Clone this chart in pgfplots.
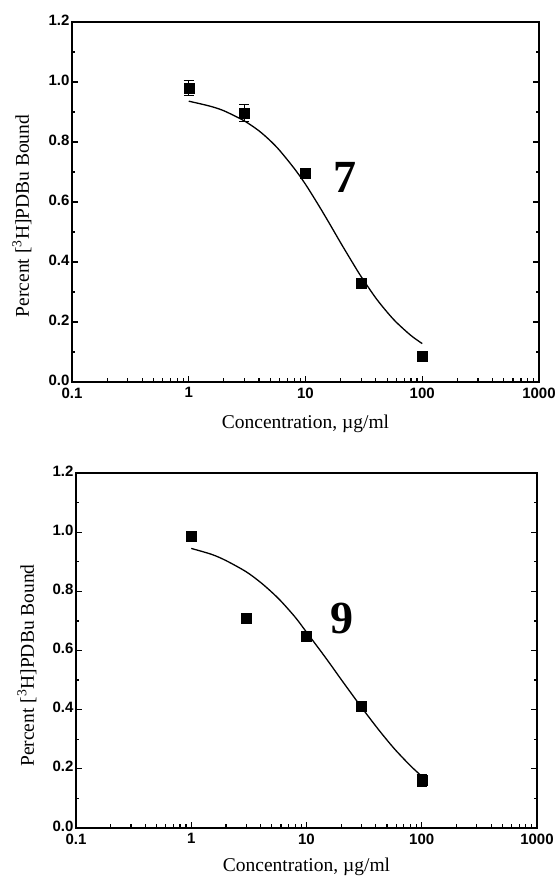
\documentclass[border=0pt]{standalone}
\usepackage{fontspec}
\setmainfont{Liberation Serif}
\newfontfamily\ticksf{Liberation Sans}
\usepackage{pgfplots}
\pgfplotsset{compat=1.18}
\usepackage{pgfplotstable}

\pgfplotstableread{
x y e
1 0.98 0.025
3 0.897 0.028
10 0.697 0.010
30 0.330 0.015
100 0.085 0.010
}\dataA
\pgfplotstableread{
x y e
1 0.987 0.015
3 0.710 0.012
10 0.650 0.015
30 0.413 0.015
100 0.160 0.020
}\dataB

\begin{document}
\begin{tikzpicture}
\useasboundingbox (0,0) rectangle (558pt,878pt);
% top panel
\begin{semilogxaxis}[
  anchor=south west, scale only axis,
  at={(72pt,496pt)}, width=467pt, height=360pt,
  xmin=0.1, xmax=1000, ymin=0, ymax=1.2,
  xtick={0.1,1,10,100,1000},
  xticklabels={0.1,1,10,100,1000},
  minor xtick={0.2,0.3,0.4,0.5,0.6,0.7,0.8,0.9,2,3,4,5,6,7,8,9,20,30,40,50,60,70,80,90,200,300,400,500,600,700,800,900},
  ytick={0,0.2,0.4,0.6,0.8,1.0,1.2},
  minor ytick={0.1,0.3,0.5,0.7,0.9,1.1},
  yticklabel style={/pgf/number format/fixed, /pgf/number format/fixed zerofill, /pgf/number format/precision=1, /pgf/number format/assume math mode=true, xshift=1pt, yshift=2pt},
  xticklabel style={yshift=-2pt},
  xtick pos=bottom, ytick pos=both,
  tick align=inside,
  major tick length=6pt, minor tick length=3.5pt,
  every tick/.style={black, line width=1.2pt},
  axis line style={line width=1.8pt},
  tick label style={font=\ticksf\bfseries\fontsize{15}{16}\selectfont},
  label style={font=\fontsize{19.5}{21}\selectfont},
  xlabel={Concentration, µg/ml},
  ylabel={Percent [\textsuperscript{3}H]PDBu Bound},
  xlabel style={at={([yshift=-42pt]axis description cs:0.5,0)}, anchor=center},
  ylabel style={at={([xshift=-50pt,yshift=-14pt]axis description cs:0,0.5)}, anchor=center},
]
\addplot[black, line width=1.3pt, smooth] coordinates {
(1,0.936)(1.5,0.920)(2,0.904)(3,0.870)(4,0.837)(5,0.804)(6,0.772)(8,0.712)(10,0.659)(13,0.588)(16,0.529)(20,0.464)(25,0.401)(30,0.351)(40,0.280)(50,0.233)(60,0.199)(80,0.155)(100,0.128)
};
\addplot[black, only marks, mark=square*, mark size=5pt,
  error bars/.cd, y dir=both, y explicit,
  error bar style={line width=1.5pt},
  error mark options={rotate=90, mark size=5pt, line width=1.5pt}]
  table[x=x, y=y, y error=e] {\dataA};
\node[font=\bfseries\fontsize{46}{46}\selectfont] at (axis cs:21.8,0.683) {7};
\end{semilogxaxis}
% bottom panel
\begin{semilogxaxis}[
  anchor=south west, scale only axis,
  at={(76pt,50pt)}, width=461pt, height=355pt,
  xmin=0.1, xmax=1000, ymin=0, ymax=1.2,
  xtick={0.1,1,10,100,1000},
  xticklabels={0.1,1,10,100,1000},
  minor xtick={0.2,0.3,0.4,0.5,0.6,0.7,0.8,0.9,2,3,4,5,6,7,8,9,20,30,40,50,60,70,80,90,200,300,400,500,600,700,800,900},
  ytick={0,0.2,0.4,0.6,0.8,1.0,1.2},
  minor ytick={0.1,0.3,0.5,0.7,0.9,1.1},
  yticklabel style={/pgf/number format/fixed, /pgf/number format/fixed zerofill, /pgf/number format/precision=1, /pgf/number format/assume math mode=true, xshift=1pt, yshift=2pt},
  xticklabel style={yshift=-2pt},
  xtick pos=bottom, ytick pos=both,
  tick align=inside,
  major tick length=6pt, minor tick length=3.5pt,
  every tick/.style={black, line width=1.2pt},
  axis line style={line width=1.8pt},
  tick label style={font=\ticksf\bfseries\fontsize{15}{16}\selectfont},
  label style={font=\fontsize{19.5}{21}\selectfont},
  xlabel={Concentration, µg/ml},
  ylabel={Percent [\textsuperscript{3}H]PDBu Bound},
  xlabel style={at={([yshift=-39pt]axis description cs:0.5,0)}, anchor=center},
  ylabel style={at={([xshift=-49pt,yshift=-15pt]axis description cs:0,0.5)}, anchor=center},
]
\addplot[black, line width=1.3pt, smooth] coordinates {
(1,0.945)(1.5,0.925)(2,0.904)(3,0.866)(4,0.830)(5,0.797)(6,0.767)(8,0.712)(10,0.662)(13,0.603)(16,0.555)(20,0.502)(25,0.450)(30,0.408)(40,0.344)(50,0.297)(60,0.261)(80,0.210)(100,0.175)
};
\addplot[black, only marks, mark=square*, mark size=5pt,
  error bars/.cd, y dir=both, y explicit,
  error bar style={line width=1.5pt},
  error mark options={rotate=90, mark size=5pt, line width=1.5pt}]
  table[x=x, y=y, y error=e] {\dataB};
\node[font=\bfseries\fontsize{46}{46}\selectfont] at (axis cs:20.5,0.707) {9};
\end{semilogxaxis}
\end{tikzpicture}
\end{document}
